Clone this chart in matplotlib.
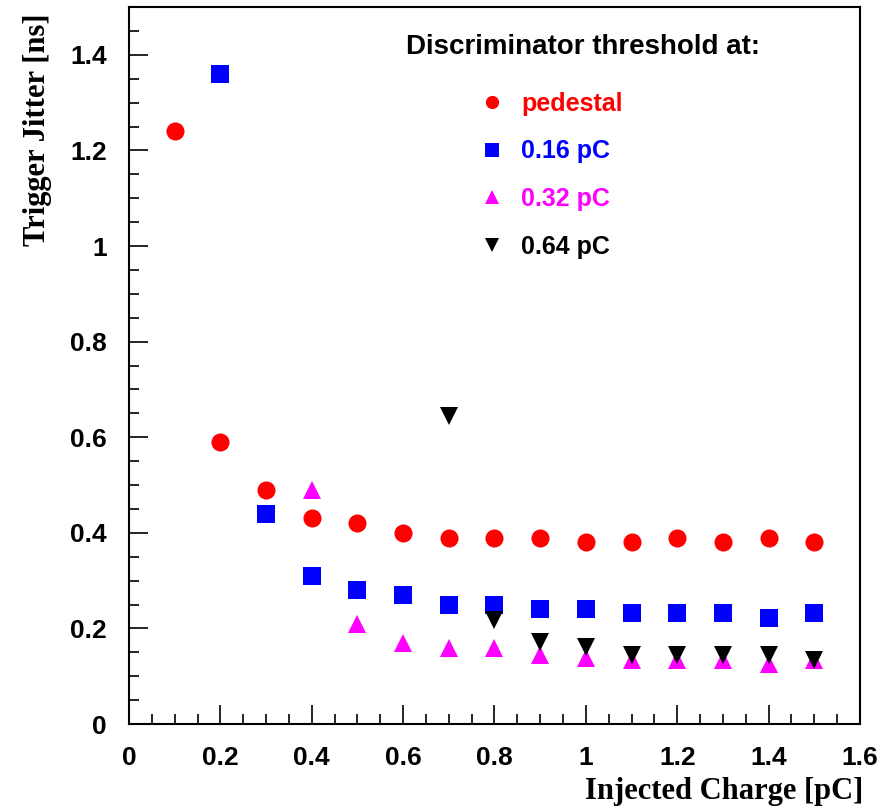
import matplotlib
matplotlib.use("Agg")
import matplotlib.pyplot as plt
from matplotlib.lines import Line2D
from matplotlib.ticker import MultipleLocator, FuncFormatter

# injected charge [pC] and trigger jitter [ns] per discriminator threshold
x_ped = [0.1, 0.2, 0.3, 0.4, 0.5, 0.6, 0.7, 0.8, 0.9, 1.0, 1.1, 1.2, 1.3, 1.4, 1.5]
y_ped = [1.24, 0.59, 0.49, 0.43, 0.42, 0.40, 0.39, 0.39, 0.39, 0.38, 0.38, 0.39, 0.38, 0.39, 0.38]

x_016 = [0.2, 0.3, 0.4, 0.5, 0.6, 0.7, 0.8, 0.9, 1.0, 1.1, 1.2, 1.3, 1.4, 1.5]
y_016 = [1.36, 0.44, 0.31, 0.28, 0.27, 0.25, 0.25, 0.24, 0.24, 0.232, 0.232, 0.232, 0.222, 0.232]

x_032 = [0.4, 0.5, 0.6, 0.7, 0.8, 0.9, 1.0, 1.1, 1.2, 1.3, 1.4, 1.5]
y_032 = [0.49, 0.21, 0.17, 0.16, 0.16, 0.145, 0.138, 0.134, 0.134, 0.134, 0.125, 0.134]

x_064 = [0.7, 0.8, 0.9, 1.0, 1.1, 1.2, 1.3, 1.4, 1.5]
y_064 = [0.645, 0.218, 0.172, 0.161, 0.144, 0.144, 0.144, 0.144, 0.134]

labels = ["pedestal", "0.16 pC", "0.32 pC", "0.64 pC"]
colors = ["#ff0000", "#0000ff", "#ff00ff", "#000000"]
markers = ["o", "s", "^", "v"]

sans = "Liberation Sans"
serif = "Liberation Serif"

fig = plt.figure(figsize=(8.93, 8.06), dpi=100)
ax = fig.add_axes([0.1445, 0.1017, 0.8185, 0.8896])

for xs, ys, c, m in zip([x_ped, x_016, x_032, x_064], [y_ped, y_016, y_032, y_064], colors, markers):
    ax.plot(xs, ys, linestyle="none", marker=m, color=c, markersize=13, markeredgewidth=0)

ax.set_xlim(0, 1.6)
ax.set_ylim(0, 1.5)
ax.xaxis.set_major_locator(MultipleLocator(0.2))
ax.xaxis.set_minor_locator(MultipleLocator(0.05))
ax.yaxis.set_major_locator(MultipleLocator(0.2))
ax.yaxis.set_minor_locator(MultipleLocator(0.05))
ax.tick_params(which="both", direction="in", top=False, right=False, width=1.2)
ax.tick_params(which="major", length=14)
ax.tick_params(axis="x", which="major", pad=16)
ax.tick_params(axis="y", which="major", pad=16)
ax.tick_params(which="minor", length=7)
for s in ax.spines.values():
    s.set_linewidth(1.5)

fmt = FuncFormatter(lambda v, p: f"{v:g}")
ax.xaxis.set_major_formatter(fmt)
ax.yaxis.set_major_formatter(fmt)
for t in ax.get_xticklabels() + ax.get_yticklabels():
    t.set_fontfamily(sans)
    t.set_fontweight("bold")
    t.set_fontsize(19)

ax.set_xlabel("Injected Charge [pC]", fontfamily=serif, fontweight="bold", fontsize=22)
ax.xaxis.set_label_coords(1.005, -0.074)
ax.xaxis.label.set_horizontalalignment("right")
ax.set_ylabel("Trigger Jitter [ns]", fontfamily=serif, fontweight="bold", fontsize=22)
ax.yaxis.set_label_coords(-0.106, 0.991)
ax.yaxis.label.set_horizontalalignment("right")

ax.text(0.379, 0.944, "Discriminator threshold at:", transform=ax.transAxes,
        fontfamily=sans, fontweight="bold", fontsize=20, va="center", ha="left")

handles = [Line2D([], [], linestyle="none", marker=m, color=c, markersize=9.5, markeredgewidth=0)
           for m, c in zip(markers, colors)]
leg = ax.legend(handles, labels, loc="upper left", bbox_to_anchor=(0.480, 0.882),
                frameon=False, prop={"family": sans, "weight": "bold", "size": 18},
                labelspacing=0.95, handletextpad=0.64, handlelength=1.0, borderaxespad=0,
                borderpad=0)
for t, c in zip(leg.get_texts(), colors):
    t.set_color(c)

fig.savefig("out.png", dpi=100)
